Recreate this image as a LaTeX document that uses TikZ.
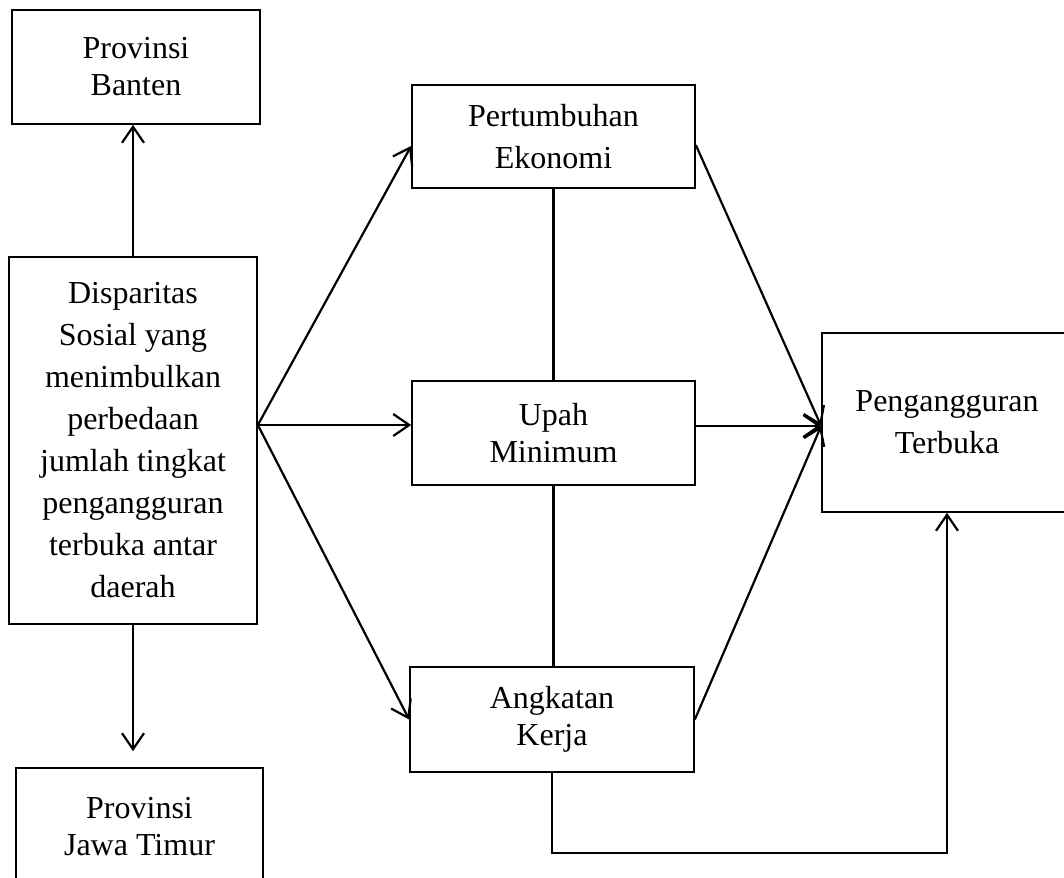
\documentclass[tikz,border=0pt]{standalone}
\usepackage{fontspec}
\setmainfont{Liberation Serif}
\usetikzlibrary{arrows.meta}
\begin{document}
\begin{tikzpicture}[x=1pt,y=-1pt,
  box/.style={draw, line width=1.7pt, inner sep=0pt, align=center, font=\fontsize{32}{37}\selectfont},
  widebox/.style={box, font=\fontsize{32}{42}\selectfont},
  conn/.style={line width=2.2pt},
  arr/.style={conn, -{Straight Barb[length=16pt,width=22pt,line width=2.2pt]}}
]
\useasboundingbox (0,0) rectangle (1064,877);
\clip (0,0) rectangle (1064,877);
% boxes
\node[box, minimum width=248pt, minimum height=114pt] (banten) at (136,67) {Provinsi\\Banten};
\node[widebox, minimum width=248pt, minimum height=367pt] (disp) at (133,440.5)
  {Disparitas\\Sosial yang\\menimbulkan\\perbedaan\\jumlah tingkat\\pengangguran\\terbuka antar\\daerah};
\node[box, minimum width=247pt, minimum height=118pt] (jatim) at (139.5,827) {Provinsi\\Jawa Timur};
\node[widebox, minimum width=283pt, minimum height=103pt] (pe) at (553.5,136.5) {Pertumbuhan\\Ekonomi};
\node[box, minimum width=283pt, minimum height=104pt] (um) at (553.5,433) {Upah\\Minimum};
\node[box, minimum width=284pt, minimum height=105pt] (ak) at (552,719.5) {Angkatan\\Kerja};
\node[widebox, minimum width=250pt, minimum height=179pt] (pt) at (947,422.5) {Pengangguran\\Terbuka};
% helper coordinates
\coordinate (src) at ([yshift=15.5pt]disp.east);
\coordinate (dst) at ([yshift=-3.5pt]pt.west);
% connectors from the left box
\draw[arr] (disp.north) -- (disp.north |- banten.south);
\draw[arr, shorten >=16pt] (disp.south) -- (disp.south |- jatim.north);
\draw[arr] (src) -- ([yshift=-9.5pt]pe.west);
\draw[arr] (src) -- (src -| um.west);
\draw[arr] (src) -- (ak.west);
% links between middle boxes
\draw[conn] (pe.south) -- (pe.south |- um.north);
\draw[conn] (um.south) -- (um.south |- ak.north);
% into the right box
\draw[arr] ([yshift=-8.5pt]pe.east) -- (dst);
\draw[arr] (um.east |- dst) -- (dst);
\draw[arr] (ak.east) -- (dst);
\draw[arr] (ak.south) -- ++(0,80) -| (pt.south);
\end{tikzpicture}
\end{document}
